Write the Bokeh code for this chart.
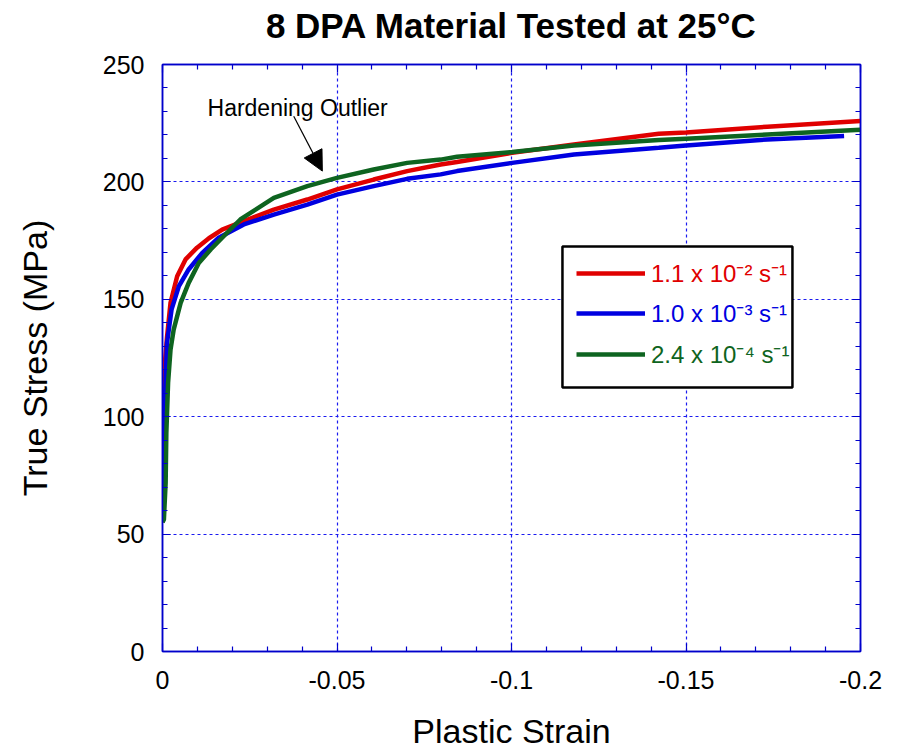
from bokeh.plotting import figure
from bokeh.models import (Range1d, FixedTicker, LinearAxis, Legend, LegendItem,
                          BoxAnnotation, Label, Arrow, NormalHead, CustomJSTickFormatter)
from bokeh.embed import file_html
from bokeh.resources import INLINE

# ---------------- data ----------------
red_strain = [0.0, -0.0002, -0.0004, -0.0008, -0.0013, -0.0023, -0.0042, -0.0066, -0.0099,
              -0.0133, -0.0171, -0.0233, -0.0319, -0.0415, -0.05, -0.0605, -0.0701, -0.0797,
              -0.0844, -0.1002, -0.1179, -0.1422, -0.15, -0.1733, -0.2]
red_stress = [55, 70, 114, 125, 134, 148.5, 159.8, 167, 172, 176, 179.7, 183.3, 188.2, 192.5,
              196.8, 201, 204.6, 207.4, 208.5, 212.4, 215.9, 220.5, 221, 223.5, 225.9]

blue_strain = [0.0, -0.0001, -0.0004, -0.0007, -0.0013, -0.0026, -0.0047, -0.0075, -0.0114,
               -0.0161, -0.0233, -0.0319, -0.0415, -0.05, -0.0605, -0.0701, -0.0797, -0.0844,
               -0.1002, -0.1179, -0.1422, -0.15, -0.1733, -0.1953]
blue_stress = [56, 60.5, 85, 107.3, 131.5, 145.7, 155.6, 162.7, 169.8, 176.2, 181.9, 186.1,
               190.3, 194.6, 198.2, 201.3, 203.2, 204.6, 208.1, 211.7, 214.5, 215.5, 218.1, 219.5]

green_strain = [0.0, -0.0004, -0.0009, -0.0011, -0.0016, -0.0023, -0.0032, -0.0052, -0.0075,
                -0.0104, -0.0138, -0.0171, -0.0223, -0.0319, -0.0415, -0.05, -0.0605, -0.0701,
                -0.0797, -0.0844, -0.1002, -0.1179, -0.1422, -0.15, -0.1733, -0.2]
green_stress = [55, 56.2, 71.8, 93.1, 114.4, 128.6, 137.1, 148.5, 157, 165.5, 171.2, 176.2,
                184, 193.2, 198.2, 201.7, 205.3, 208.1, 209.5, 210.7, 212.7, 215.5, 217.8,
                218.4, 220.2, 222.2]

series_labels = ["1.1 x 10\u207b\u00b2 s\u207b\u00b9",
                 "1.0 x 10\u207b\u00b3 s\u207b\u00b9",
                 "2.4 x 10\u207b\u2074 s\u207b\u00b9"]

x_major_ticks = [0, -0.05, -0.1, -0.15, -0.2]
y_major_ticks = [0, 50, 100, 150, 200, 250]

title_text = "8 DPA Material Tested at 25\u00b0C"
x_label = "Plastic Strain"
y_label = "True Stress (MPa)"
note_text = "Hardening Outlier"

# ---------------- styling ----------------
FONT = "Liberation Sans"
BLUE = "#0000CC"
GRID_BLUE = "#1A1AF0"
RED_C = "#E00000"
BLUE_C = "#0000E0"
GREEN_C = "#0E6420"

x_minor = [round(-0.01 * i, 2) for i in range(1, 20) if i % 5 != 0]
y_minor = [10 * i for i in range(1, 25) if i % 5 != 0]

p = figure(width=897, height=752, x_range=Range1d(0, -0.2), y_range=Range1d(0, 250),
           output_backend="svg", toolbar_location=None,
           min_border_left=162, min_border_right=37, min_border_top=0, min_border_bottom=100,
           x_axis_label=x_label, y_axis_label=y_label, title=title_text)

p.title.align = "center"
p.title.text_font = FONT
p.title.text_font_size = "35px"
p.title.text_font_style = "bold"
p.title.text_color = "black"
p.title.standoff = 6

p.outline_line_color = BLUE
p.outline_line_width = 1.5
p.background_fill_color = "white"
p.border_fill_color = "white"

xt = FixedTicker(ticks=x_major_ticks, minor_ticks=x_minor)
yt = FixedTicker(ticks=y_major_ticks, minor_ticks=y_minor)


def style_axis(ax, ticker):
    ax.ticker = ticker
    ax.axis_line_color = BLUE
    ax.axis_line_width = 1.5
    ax.major_tick_line_color = BLUE
    ax.minor_tick_line_color = BLUE
    ax.major_tick_line_width = 1.2
    ax.minor_tick_line_width = 1.2
    ax.major_tick_in = 8
    ax.major_tick_out = 0
    ax.minor_tick_in = 5
    ax.minor_tick_out = 0
    ax.major_label_text_font = FONT
    ax.major_label_text_font_size = "25px"
    ax.major_label_text_color = "black"
    ax.axis_label_text_font = FONT
    ax.axis_label_text_font_size = "34px"
    ax.axis_label_text_font_style = "normal"
    ax.axis_label_text_color = "black"


xa = p.xaxis[0]
ya = p.yaxis[0]
style_axis(xa, xt)
style_axis(ya, yt)
xa.formatter = CustomJSTickFormatter(
    code="return tick == 0 ? '0' : String(Math.round(tick*100)/100);")
xa.major_label_standoff = 19
xa.axis_label_standoff = 20
ya.major_label_standoff = 18
ya.axis_label_standoff = 46

top_ax = LinearAxis()
right_ax = LinearAxis()
for ax, t in ((top_ax, xt), (right_ax, yt)):
    style_axis(ax, t)
    ax.formatter = CustomJSTickFormatter(code="return '';")
    ax.major_label_standoff = 0
    ax.major_label_text_font_size = "1px"
p.add_layout(top_ax, "above")
p.add_layout(right_ax, "right")

# invisible spacer between the frame and the title
spacer = LinearAxis(ticker=FixedTicker(ticks=[-0.1]),
                    formatter=CustomJSTickFormatter(code="return '';"))
spacer.axis_line_alpha = 0
spacer.major_tick_line_alpha = 0
spacer.minor_tick_line_alpha = 0
spacer.major_tick_in = 0
spacer.major_tick_out = 17
spacer.minor_tick_in = 0
spacer.minor_tick_out = 0
spacer.major_label_standoff = 0
spacer.major_label_text_font_size = "1px"
p.add_layout(spacer, "above")

p.xgrid.ticker = FixedTicker(ticks=x_major_ticks[1:-1])
p.ygrid.ticker = FixedTicker(ticks=y_major_ticks[1:-1])
for g in (p.xgrid[0], p.ygrid[0]):
    g.grid_line_color = GRID_BLUE
    g.grid_line_dash = "3 3"
    g.grid_line_width = 1.2

# curves
r_red = p.line(red_strain, red_stress, line_color=RED_C, line_width=4.5)
r_blue = p.line(blue_strain, blue_stress, line_color=BLUE_C, line_width=4.5)
r_green = p.line(green_strain, green_stress, line_color=GREEN_C, line_width=4.5)

# legend frame
box = BoxAnnotation(left=-0.1146, right=-0.1805, top=172.5, bottom=112.4,
                    fill_color="white", fill_alpha=1.0, line_color="black",
                    line_alpha=1.0, line_width=2.5)
p.add_layout(box)

for r, lbl, col, yloc in ((r_red, series_labels[0], RED_C, 362),
                          (r_blue, series_labels[1], BLUE_C, 322),
                          (r_green, series_labels[2], GREEN_C, 281)):
    leg = Legend(items=[LegendItem(label=lbl, renderers=[r])], location=(414, yloc),
                 label_text_color=col, label_text_font=FONT, label_text_font_size="24px",
                 glyph_width=69, glyph_height=24, label_height=24, label_standoff=6,
                 padding=0, spacing=0, margin=0, border_line_alpha=0,
                 background_fill_alpha=0)
    p.add_layout(leg)

# annotation
p.add_layout(Label(x=-0.0129, y=231.3, text=note_text, text_font=FONT,
                   text_font_size="23px", text_color="black", text_baseline="alphabetic"))
p.add_layout(Arrow(end=NormalHead(size=20, fill_color="black", line_color="black"),
                   x_start=-0.0376, y_start=228, x_end=-0.0458, y_end=204.6,
                   line_color="black", line_width=1.2))

open("out.html", "w").write(file_html(p, INLINE))
